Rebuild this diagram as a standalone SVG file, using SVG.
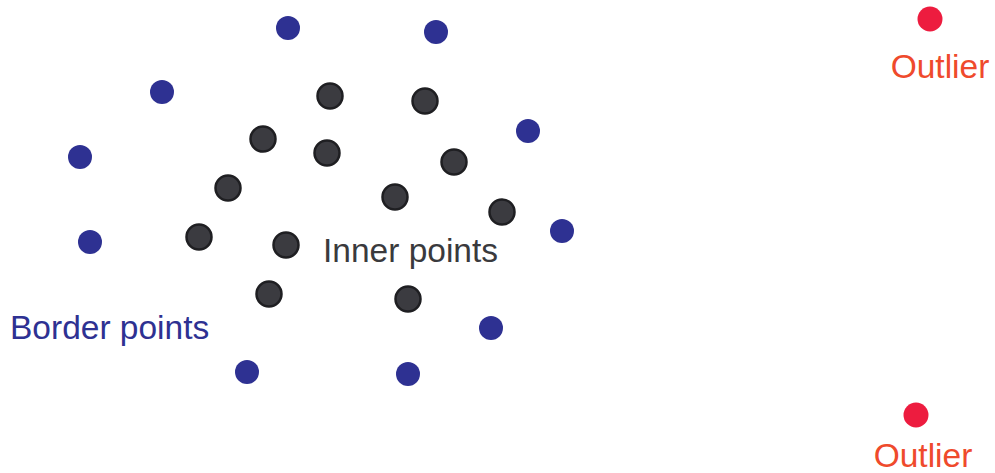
<svg xmlns="http://www.w3.org/2000/svg" width="995" height="473" viewBox="0 0 995 473">
<style>
.b{fill:#2e3192}
.i{fill:#3b3b40;stroke:#1f1f22;stroke-width:2.5}
.o{fill:#ed1c3f}
text{font-family:"Liberation Sans",Arial,sans-serif;font-size:33.5px}
</style>
<rect width="995" height="473" fill="#fff"/>
<g id="border-points">
<circle class="b" cx="288" cy="28" r="12"/>
<circle class="b" cx="436" cy="32" r="12"/>
<circle class="b" cx="162" cy="92" r="12"/>
<circle class="b" cx="528" cy="131" r="12"/>
<circle class="b" cx="80" cy="157" r="12"/>
<circle class="b" cx="90" cy="242" r="12"/>
<circle class="b" cx="562" cy="231" r="12"/>
<circle class="b" cx="491" cy="328" r="12"/>
<circle class="b" cx="247" cy="372" r="12"/>
<circle class="b" cx="408" cy="374" r="12"/>
</g>
<g id="inner-points">
<circle class="i" cx="330" cy="96" r="12.5"/>
<circle class="i" cx="425" cy="101" r="12.5"/>
<circle class="i" cx="263" cy="139" r="12.5"/>
<circle class="i" cx="327" cy="153" r="12.5"/>
<circle class="i" cx="454" cy="162" r="12.5"/>
<circle class="i" cx="228" cy="188" r="12.5"/>
<circle class="i" cx="395" cy="197" r="12.5"/>
<circle class="i" cx="502" cy="212" r="12.5"/>
<circle class="i" cx="199" cy="237" r="12.5"/>
<circle class="i" cx="286" cy="245" r="12.5"/>
<circle class="i" cx="269" cy="294" r="12.5"/>
<circle class="i" cx="408" cy="299" r="12.5"/>
</g>
<g id="outlier-top">
<circle class="o" cx="930" cy="19" r="12.5"/>
<text x="940" y="78" text-anchor="middle" fill="#ef4a2c">Outlier</text>
</g>
<g id="outlier-bottom">
<circle class="o" cx="916" cy="415" r="12.5"/>
<text x="923" y="467" text-anchor="middle" fill="#ef4a2c">Outlier</text>
</g>
<g id="labels">
<text x="323" y="262" fill="#3a3a3d">Inner points</text>
<text x="10" y="339" fill="#2e3192">Border points</text>
</g>
<g id="connectors"/>
</svg>
